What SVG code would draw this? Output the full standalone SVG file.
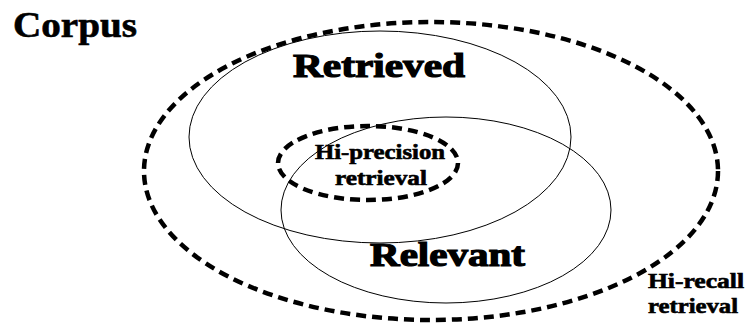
<svg xmlns="http://www.w3.org/2000/svg" width="745" height="326" viewBox="0 0 745 326">
<style>
.thin{fill:none;stroke:#000;stroke-width:1}
.dash{fill:none;stroke:#000;stroke-width:4.5;stroke-dasharray:10 6}
text{font-family:"Liberation Serif","Times New Roman",serif;font-weight:bold;fill:#000;stroke:#000;stroke-width:0.6}
</style>
<rect width="745" height="326" fill="#fff"/>
<g id="corpus">
<text x="13" y="37" font-size="35" textLength="124" lengthAdjust="spacingAndGlyphs">Corpus</text>
</g>
<g id="hi-recall">
<ellipse class="dash" cx="431" cy="171" rx="287" ry="149"/>
<text x="648" y="288" font-size="20" textLength="96" lengthAdjust="spacingAndGlyphs">Hi-recall</text>
<text x="648" y="313" font-size="20" textLength="90" lengthAdjust="spacingAndGlyphs">retrieval</text>
</g>
<g id="retrieved">
<ellipse class="thin" cx="380" cy="137" rx="191" ry="106"/>
<text x="293" y="77" font-size="34" textLength="172" lengthAdjust="spacingAndGlyphs" style="stroke-width:1.2">Retrieved</text>
</g>
<g id="relevant">
<ellipse class="thin" cx="446" cy="210" rx="165" ry="93"/>
<text x="370" y="266" font-size="33" textLength="155" lengthAdjust="spacingAndGlyphs" style="stroke-width:1.2">Relevant</text>
</g>
<g id="hi-precision">
<ellipse class="dash" cx="368" cy="163" rx="90" ry="37"/>
<text x="315" y="159" font-size="20" textLength="130" lengthAdjust="spacingAndGlyphs">Hi-precision</text>
<text x="335" y="185" font-size="20" textLength="92" lengthAdjust="spacingAndGlyphs">retrieval</text>
</g>
<g id="connectors"></g>
</svg>
